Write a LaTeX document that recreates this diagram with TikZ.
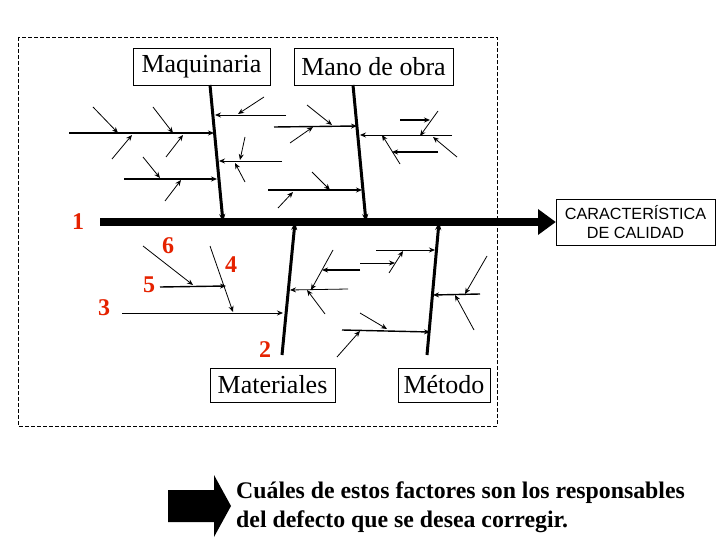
\documentclass[tikz,border=0pt]{standalone}
\usepackage{fontspec}
\setmainfont{Liberation Serif}
\newfontfamily\arialf{Liberation Sans}
\usetikzlibrary{arrows.meta}
\begin{document}
\begin{tikzpicture}[x=1pt,y=-1pt,
  sm/.style={-{Stealth[length=6pt,width=5pt]},line width=0.8pt},
  br/.style={-{Stealth[length=8pt,width=6pt]},line width=3pt},
  box/.style={draw,line width=0.6pt,inner sep=0pt,font=\fontsize{26}{28}\selectfont},
  num/.style={text=red!70!orange!90!black,font=\bfseries\fontsize{24}{26}\selectfont}]
\useasboundingbox (0,0) rectangle (720,540);
\draw[dash pattern=on 4pt off 2pt,line width=0.6pt] (18,37) rectangle (497,426);
% boxes
\node[box,minimum width=137pt,minimum height=37pt] (maq) at (201.5,66.5) {Maquinaria};
\node[box,minimum width=159pt,minimum height=37pt] (mano) at (373.5,66.5) {Mano de obra};
\node[box,minimum width=125pt,minimum height=34pt] (mat) at (272.5,385) {Materiales};
\node[box,minimum width=92pt,minimum height=34pt] (met) at (444,385) {Método};
\node[box,minimum width=159pt,minimum height=46pt,font=\arialf\fontsize{16.2}{19}\selectfont,align=center] (car) at (635.5,222) {CARACTERÍSTICA\\DE CALIDAD};
% spine
\coordinate (s0) at (100,222);
\draw[line width=8pt] (s0) -- (542,222);
\fill (538,209) -- (car.west) -- (538,235) -- cycle;
% main branches
\coordinate (b1a) at (210,85); \coordinate (b1b) at (223,222);
\coordinate (b2a) at (353,85); \coordinate (b2b) at (366,222);
\coordinate (b3a) at (282,355); \coordinate (b3b) at (295,222);
\coordinate (b4a) at (427,355); \coordinate (b4b) at (439,222);
\draw[br] (b1a) -- (b1b);
\draw[br] (b2a) -- (b2b);
\draw[br] (b3a) -- (b3b);
\draw[br] (b4a) -- (b4b);
% Maquinaria
\draw[sm,line width=1.4pt] (69,133) -- (214,133);
\draw[sm] (93,107) -- (118,133);
\draw[sm] (153,107) -- (173,133);
\draw[sm] (112,159) -- (132,135);
\draw[sm] (166,157) -- (183,135);
\draw[sm,line width=1.4pt] (124,179) -- (217,179);
\draw[sm] (143,157) -- (160,178);
\draw[sm] (165,201) -- (181,180);
\draw[sm] (286,115) -- (215,115);
\draw[sm] (264,97) -- (238,114);
\draw[sm] (282,161) -- (219,161);
\draw[sm] (245,137) -- (240,160);
\draw[sm] (245,182) -- (235,163);
% Mano de obra
\draw[sm,line width=1.4pt] (274,127) -- (357,126);
\draw[sm] (307,105) -- (332,125);
\draw[sm] (290,143) -- (313,127);
\draw[sm] (452,135) -- (360,135);
\draw[sm] (438,111) -- (420,136);
\draw[sm] (457,157) -- (433,137);
\draw[sm,line width=1.4pt] (400,120) -- (430,120);
\draw[sm,line width=1.4pt] (438,152) -- (392,152);
\draw[sm] (400,164) -- (382,135);
\draw[sm,line width=1.4pt] (268,190) -- (362,190);
\draw[sm] (312,172) -- (330,190);
\draw[sm] (278,208) -- (293,192);
% lower left numbered
\draw[sm] (122,313) -- (283,313);
\draw[sm] (210,246) -- (233,312);
\draw[sm,line width=1.4pt] (160,287) -- (226,286);
\draw[sm] (143,246) -- (193,285);
\node[num] (n1) at (78,222) {1};
\node[num] (n6) at (168,246) {6};
\node[num] (n4) at (231,265) {4};
\node[num] (n5) at (149,285) {5};
\node[num] (n3) at (104,308) {3};
\node[num] (n2) at (265,350) {2};
% Materiales / Metodo
\draw[sm] (348,289) -- (290,290);
\draw[sm] (333,250) -- (311,290);
\draw[sm] (325,314) -- (307,290);
\draw[sm,line width=1.4pt] (360,270) -- (322,270);
\draw[sm] (376,250) -- (435,250);
\draw[sm] (389,273) -- (403,251);
\draw[sm] (360,263) -- (395,263);
\draw[sm,line width=1.4pt] (342,330) -- (430,332);
\draw[sm] (360,313) -- (387,329);
\draw[sm] (337,357) -- (360,331);
\draw[sm,line width=1.4pt] (480,294) -- (433,295);
\draw[sm] (487,256) -- (465,294);
\draw[sm] (474,330) -- (455,295);
% bottom arrow and text
\fill (168,490) -- (214,490) -- (214,475) -- (231,506) -- (214,537) -- (214,522) -- (168,522) -- cycle;
\node[anchor=north west,align=left,inner sep=0pt,font=\bfseries\fontsize{23.8}{29}\selectfont] (txt) at (236,482)
  {Cuáles de estos factores son los responsables\\del defecto que se desea corregir.};
\end{tikzpicture}
\end{document}
